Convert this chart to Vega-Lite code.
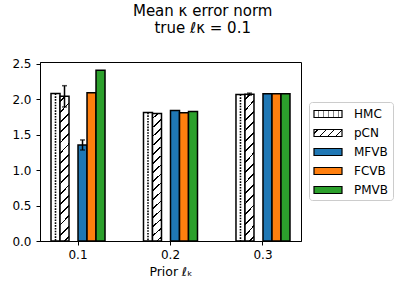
{
  "$schema": "https://vega.github.io/schema/vega-lite/v6.json",
  "width": 261,
  "height": 179,
  "autosize": {"type": "none"},
  "padding": {"left": 40, "top": 62, "right": 102, "bottom": 50},
  "title": {
    "text": ["Mean κ error norm", "true ℓκ = 0.1"],
    "anchor": "middle",
    "frame": "bounds",
    "font": "DejaVu Sans",
    "fontSize": 15,
    "fontWeight": "normal",
    "color": "black",
    "lineHeight": 16.5,
    "offset": 22
  },
  "data": {
    "values": [
      {"prior": "0.1", "method": "HMC", "value": 2.08},
      {"prior": "0.1", "method": "pCN", "value": 2.04, "lo": 1.89, "hi": 2.19},
      {"prior": "0.1", "method": "MFVB", "value": 1.354, "lo": 1.283, "hi": 1.425},
      {"prior": "0.1", "method": "FCVB", "value": 2.09},
      {"prior": "0.1", "method": "PMVB", "value": 2.406},
      {"prior": "0.2", "method": "HMC", "value": 1.811},
      {"prior": "0.2", "method": "pCN", "value": 1.797},
      {"prior": "0.2", "method": "MFVB", "value": 1.84},
      {"prior": "0.2", "method": "FCVB", "value": 1.807},
      {"prior": "0.2", "method": "PMVB", "value": 1.825},
      {"prior": "0.3", "method": "HMC", "value": 2.066},
      {"prior": "0.3", "method": "pCN", "value": 2.071, "lo": 2.057, "hi": 2.085},
      {"prior": "0.3", "method": "MFVB", "value": 2.075},
      {"prior": "0.3", "method": "FCVB", "value": 2.075},
      {"prior": "0.3", "method": "PMVB", "value": 2.075}
    ]
  },
  "encoding": {
    "x": {
      "field": "prior",
      "type": "nominal",
      "scale": {"paddingInner": 0.416, "paddingOuter": 0.119},
      "axis": {"labelAngle": 0, "title": "Prior ℓₖ", "titlePadding": 5, "titleFontSize": 12.5}
    },
    "xOffset": {
      "field": "method",
      "type": "nominal",
      "scale": {"domain": ["HMC", "pCN", "gap", "MFVB", "FCVB", "PMVB"], "paddingInner": 0, "paddingOuter": 0}
    },
    "y": {
      "field": "value",
      "type": "quantitative",
      "scale": {"domain": [0, 2.524], "nice": false, "zero": true},
      "axis": {"values": [0, 0.5, 1, 1.5, 2, 2.5], "format": ".1f", "title": null, "labelOverlap": false, "labelPadding": 5}
    }
  },
  "layer": [
    {
      "transform": [{"filter": "datum.method != 'HMC' && datum.method != 'pCN'"}],
      "mark": {"type": "bar", "stroke": "black", "strokeWidth": 1.5},
      "encoding": {
        "fill": {
          "field": "method",
          "type": "nominal",
          "scale": {
            "domain": ["HMC", "pCN", "MFVB", "FCVB", "PMVB"],
            "range": [
              {"expr": "{gradient: 'linear', x1: 0, y1: 0, x2: 1, y2: 0, stops: [{offset: 0, color: 'white'}, {offset: 0.13, color: 'white'}, {offset: 0.13, color: '#888'}, {offset: 0.17, color: '#888'}, {offset: 0.17, color: 'white'}, {offset: 0.31, color: 'white'}, {offset: 0.31, color: '#888'}, {offset: 0.35, color: '#888'}, {offset: 0.35, color: 'white'}, {offset: 0.49, color: 'white'}, {offset: 0.49, color: '#888'}, {offset: 0.53, color: '#888'}, {offset: 0.53, color: 'white'}, {offset: 0.67, color: 'white'}, {offset: 0.67, color: '#888'}, {offset: 0.71, color: '#888'}, {offset: 0.71, color: 'white'}, {offset: 0.85, color: 'white'}, {offset: 0.85, color: '#888'}, {offset: 0.89, color: '#888'}, {offset: 0.89, color: 'white'}, {offset: 1, color: 'white'}]}"},
              {"expr": "{gradient: 'linear', x1: 0, y1: 0, x2: 1.176, y2: 0.294, stops: [{offset: 0, color: 'white'}, {offset: 0.1, color: 'white'}, {offset: 0.1, color: 'black'}, {offset: 0.15, color: 'black'}, {offset: 0.15, color: 'white'}, {offset: 0.33, color: 'white'}, {offset: 0.33, color: 'black'}, {offset: 0.38, color: 'black'}, {offset: 0.38, color: 'white'}, {offset: 0.56, color: 'white'}, {offset: 0.56, color: 'black'}, {offset: 0.61, color: 'black'}, {offset: 0.61, color: 'white'}, {offset: 0.79, color: 'white'}, {offset: 0.79, color: 'black'}, {offset: 0.84, color: 'black'}, {offset: 0.84, color: 'white'}, {offset: 1, color: 'white'}]}"},
              "#1f77b4",
              "#ff7f0e",
              "#2ca02c"
            ]
          },
          "legend": {
            "title": null,
            "orient": "none",
            "legendX": 269,
            "legendY": 40,
            "symbolType": "M-1,-0.5L3,-0.5L3,0.5L-1,0.5Z",
            "symbolSize": 196,
            "symbolStrokeColor": "black",
            "symbolStrokeWidth": 1.2,
            "symbolOpacity": 1,
            "labelFont": "DejaVu Sans",
            "labelFontSize": 12,
            "labelColor": "black",
            "labelOffset": 25,
            "rowPadding": 5,
            "padding": 4,
            "strokeColor": "#cccccc",
            "fillColor": "white",
            "cornerRadius": 3
          }
        }
      }
    },
    {
      "transform": [{"filter": "datum.method == 'HMC'"}],
      "mark": {"type": "bar", "fill": "white", "stroke": "black", "strokeWidth": 1.5}
    },
    {
      "transform": [{"filter": "datum.method == 'HMC'"}],
      "mark": {"type": "rule", "color": "black", "strokeWidth": 1.6, "strokeDash": [1.6, 4], "xOffset": -2.2},
      "encoding": {"y2": {"datum": 0}}
    },
    {
      "transform": [{"filter": "datum.method == 'HMC'"}],
      "mark": {"type": "rule", "color": "black", "strokeWidth": 1.6, "strokeDash": [1.6, 4], "strokeDashOffset": 2.8, "xOffset": 2.2},
      "encoding": {"y2": {"datum": 0}}
    },
    {
      "transform": [{"filter": "datum.method == 'pCN'"}],
      "mark": {
        "type": "bar",
        "stroke": "black",
        "strokeWidth": 1.5,
        "fill": {"gradient": "linear", "x1": 0, "y1": 0, "x2": 0.0679, "y2": 1.06, "stops": [
          {"offset": 0, "color": "white"},
          {"offset": 0.030, "color": "white"}, {"offset": 0.030, "color": "black"}, {"offset": 0.042, "color": "black"}, {"offset": 0.042, "color": "white"},
          {"offset": 0.097, "color": "white"}, {"offset": 0.097, "color": "black"}, {"offset": 0.109, "color": "black"}, {"offset": 0.109, "color": "white"},
          {"offset": 0.163, "color": "white"}, {"offset": 0.163, "color": "black"}, {"offset": 0.175, "color": "black"}, {"offset": 0.175, "color": "white"},
          {"offset": 0.230, "color": "white"}, {"offset": 0.230, "color": "black"}, {"offset": 0.242, "color": "black"}, {"offset": 0.242, "color": "white"},
          {"offset": 0.297, "color": "white"}, {"offset": 0.297, "color": "black"}, {"offset": 0.309, "color": "black"}, {"offset": 0.309, "color": "white"},
          {"offset": 0.363, "color": "white"}, {"offset": 0.363, "color": "black"}, {"offset": 0.375, "color": "black"}, {"offset": 0.375, "color": "white"},
          {"offset": 0.430, "color": "white"}, {"offset": 0.430, "color": "black"}, {"offset": 0.442, "color": "black"}, {"offset": 0.442, "color": "white"},
          {"offset": 0.497, "color": "white"}, {"offset": 0.497, "color": "black"}, {"offset": 0.509, "color": "black"}, {"offset": 0.509, "color": "white"},
          {"offset": 0.563, "color": "white"}, {"offset": 0.563, "color": "black"}, {"offset": 0.575, "color": "black"}, {"offset": 0.575, "color": "white"},
          {"offset": 0.630, "color": "white"}, {"offset": 0.630, "color": "black"}, {"offset": 0.642, "color": "black"}, {"offset": 0.642, "color": "white"},
          {"offset": 0.697, "color": "white"}, {"offset": 0.697, "color": "black"}, {"offset": 0.709, "color": "black"}, {"offset": 0.709, "color": "white"},
          {"offset": 0.763, "color": "white"}, {"offset": 0.763, "color": "black"}, {"offset": 0.775, "color": "black"}, {"offset": 0.775, "color": "white"},
          {"offset": 0.830, "color": "white"}, {"offset": 0.830, "color": "black"}, {"offset": 0.842, "color": "black"}, {"offset": 0.842, "color": "white"},
          {"offset": 0.897, "color": "white"}, {"offset": 0.897, "color": "black"}, {"offset": 0.909, "color": "black"}, {"offset": 0.909, "color": "white"},
          {"offset": 0.963, "color": "white"}, {"offset": 0.963, "color": "black"}, {"offset": 0.975, "color": "black"}, {"offset": 0.975, "color": "white"},
          {"offset": 1, "color": "white"}
        ]}
      }
    },
    {
      "transform": [{"filter": "isValid(datum.lo)"}],
      "mark": {"type": "rule", "color": "black", "strokeWidth": 1.5},
      "encoding": {
        "y": {"field": "lo", "type": "quantitative", "scale": {"domain": [0, 2.524], "nice": false, "zero": true}, "axis": {"values": [0, 0.5, 1, 1.5, 2, 2.5], "format": ".1f", "title": null, "labelOverlap": false, "labelPadding": 5}},
        "y2": {"field": "hi"}
      }
    },
    {
      "transform": [{"filter": "isValid(datum.lo)"}],
      "mark": {"type": "tick", "color": "black", "size": 5, "thickness": 1.5, "orient": "horizontal"},
      "encoding": {
        "y": {"field": "lo", "type": "quantitative", "scale": {"domain": [0, 2.524], "nice": false, "zero": true}, "axis": {"values": [0, 0.5, 1, 1.5, 2, 2.5], "format": ".1f", "title": null, "labelOverlap": false, "labelPadding": 5}}
      }
    },
    {
      "transform": [{"filter": "isValid(datum.lo)"}],
      "mark": {"type": "tick", "color": "black", "size": 5, "thickness": 1.5, "orient": "horizontal"},
      "encoding": {
        "y": {"field": "hi", "type": "quantitative", "scale": {"domain": [0, 2.524], "nice": false, "zero": true}, "axis": {"values": [0, 0.5, 1, 1.5, 2, 2.5], "format": ".1f", "title": null, "labelOverlap": false, "labelPadding": 5}}
      }
    }
  ],
  "config": {
    "font": "DejaVu Sans",
    "view": {"stroke": "black", "strokeWidth": 1},
    "axis": {
      "labelFont": "DejaVu Sans",
      "labelFontSize": 12,
      "labelColor": "black",
      "tickColor": "black",
      "domainColor": "black",
      "tickSize": 4,
      "labelPadding": 4,
      "titleFont": "DejaVu Sans",
      "titleFontSize": 12,
      "titleFontWeight": "normal",
      "titleColor": "black",
      "grid": false
    }
  }
}
